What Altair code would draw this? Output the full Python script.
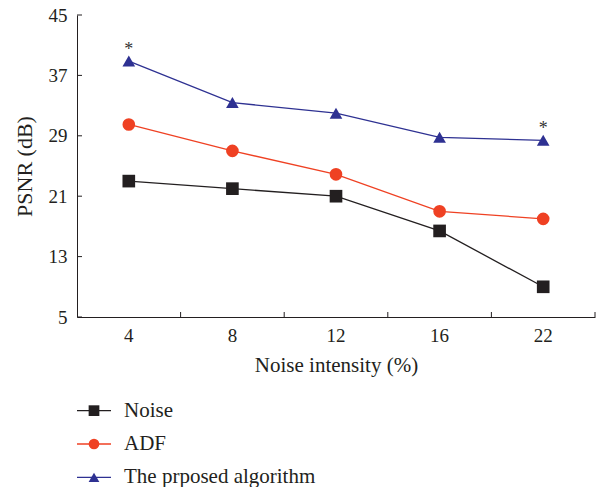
import altair as alt
import pandas as pd

# ---- data ----
noise_levels = ["4", "8", "12", "16", "22"]
series_names = ["Noise", "ADF", "The prposed algorithm"]
noise_psnr = [23.0, 22.0, 21.0, 16.4, 9.0]
adf_psnr = [30.5, 27.0, 23.9, 19.0, 18.0]
proposed_psnr = [38.9, 33.4, 32.0, 28.8, 28.4]
proposed_marked = [True, False, False, False, True]
y_ticks = [5, 13, 21, 29, 37, 45]

colors = ["#231f20", "#ef4123", "#2e3192"]
shapes = ["square", "circle", "triangle-up"]
FONT = "Liberation Serif"
TXT = "#231f20"

rows = []
for name, vals in zip(series_names, [noise_psnr, adf_psnr, proposed_psnr]):
    for i, (lv, v) in enumerate(zip(noise_levels, vals)):
        mark = name == series_names[2] and proposed_marked[i]
        rows.append({"level": lv, "psnr": v, "series": name, "star": "*" if mark else ""})
df = pd.DataFrame(rows)
star_df = df[df["star"] != ""]
ytick_df = pd.DataFrame({"psnr": y_ticks})
xtick_df = pd.DataFrame({"level": noise_levels})
legend_df = pd.DataFrame({"series": series_names})

W, H = 518, 302

color_scale = alt.Scale(domain=series_names, range=colors)
shape_scale = alt.Scale(domain=series_names, range=shapes)
x_scale = alt.Scale(type="band", paddingInner=0, paddingOuter=0)
y_scale = alt.Scale(domain=[5, 45], nice=False, zero=False)

x_enc = alt.X(
    "level:O", sort=noise_levels, scale=x_scale, bandPosition=0.5,
    axis=alt.Axis(title="Noise intensity (%)", ticks=False, tickSize=0, labelAngle=0,
                  labelPadding=9, titlePadding=9, grid=False, titleFontSize=21),
)
y_enc = alt.Y(
    "psnr:Q", scale=y_scale,
    axis=alt.Axis(title="PSNR (dB)", values=y_ticks, ticks=False, tickSize=0,
                  labelPadding=10, titlePadding=12, grid=False, titleFontSize=22),
)

base = alt.Chart(df)
lines = base.mark_line(strokeWidth=1.3).encode(
    x=x_enc, y=y_enc,
    color=alt.Color("series:N", scale=color_scale, legend=None),
    detail="series:N",
)
points = base.mark_point(filled=True, opacity=1, size=160).encode(
    x=x_enc, y=y_enc,
    color=alt.Color("series:N", scale=color_scale, legend=None),
    shape=alt.Shape("series:N", scale=shape_scale, legend=None),
)
stars = alt.Chart(star_df).mark_text(font=FONT, fontSize=18, color="#333333", dy=-11).encode(
    x=x_enc, y=y_enc, text="star:N"
)
ytick_rules = alt.Chart(ytick_df).mark_rule(color=TXT, strokeWidth=1).encode(
    y=alt.Y("psnr:Q", scale=y_scale), x=alt.value(0), x2=alt.value(5)
)
xtick_rules = alt.Chart(xtick_df).mark_rule(color=TXT, strokeWidth=1).encode(
    x=alt.X("level:O", sort=noise_levels, scale=x_scale, bandPosition=1),
    y=alt.value(H), y2=alt.value(H - 5),
)

main = alt.layer(lines, points, stars, ytick_rules, xtick_rules).properties(width=W, height=H)

leg_y = alt.Y("series:N", sort=series_names, axis=None,
              scale=alt.Scale(type="point", padding=0.5))
leg_base = alt.Chart(legend_df)
leg_rule = leg_base.mark_rule(strokeWidth=1.3).encode(
    y=leg_y, x=alt.value(0), x2=alt.value(34),
    color=alt.Color("series:N", scale=color_scale, legend=None),
)
leg_pt = leg_base.mark_point(filled=True, opacity=1, size=115).encode(
    y=leg_y, x=alt.value(17),
    color=alt.Color("series:N", scale=color_scale, legend=None),
    shape=alt.Shape("series:N", scale=shape_scale, legend=None),
)
leg_txt = leg_base.mark_text(font=FONT, fontSize=21, color=TXT, align="left", baseline="middle").encode(
    y=leg_y, x=alt.value(47), text="series:N"
)
legend = alt.layer(leg_rule, leg_pt, leg_txt).properties(width=W, height=100)

chart = alt.vconcat(main, legend, spacing=19).resolve_scale(
    x="independent", y="independent"
).properties(
    padding={"left": 13, "top": 6, "right": 0, "bottom": 0},
    background="white",
).configure_view(stroke=None).configure_axis(
    labelFont=FONT, titleFont=FONT, labelFontSize=19, titleFontSize=21,
    labelColor=TXT, titleColor=TXT, domainColor=TXT, domainWidth=1,
    titleFontWeight="normal",
)

chart.save("out.html", embed_options={"renderer": "svg", "actions": False})
